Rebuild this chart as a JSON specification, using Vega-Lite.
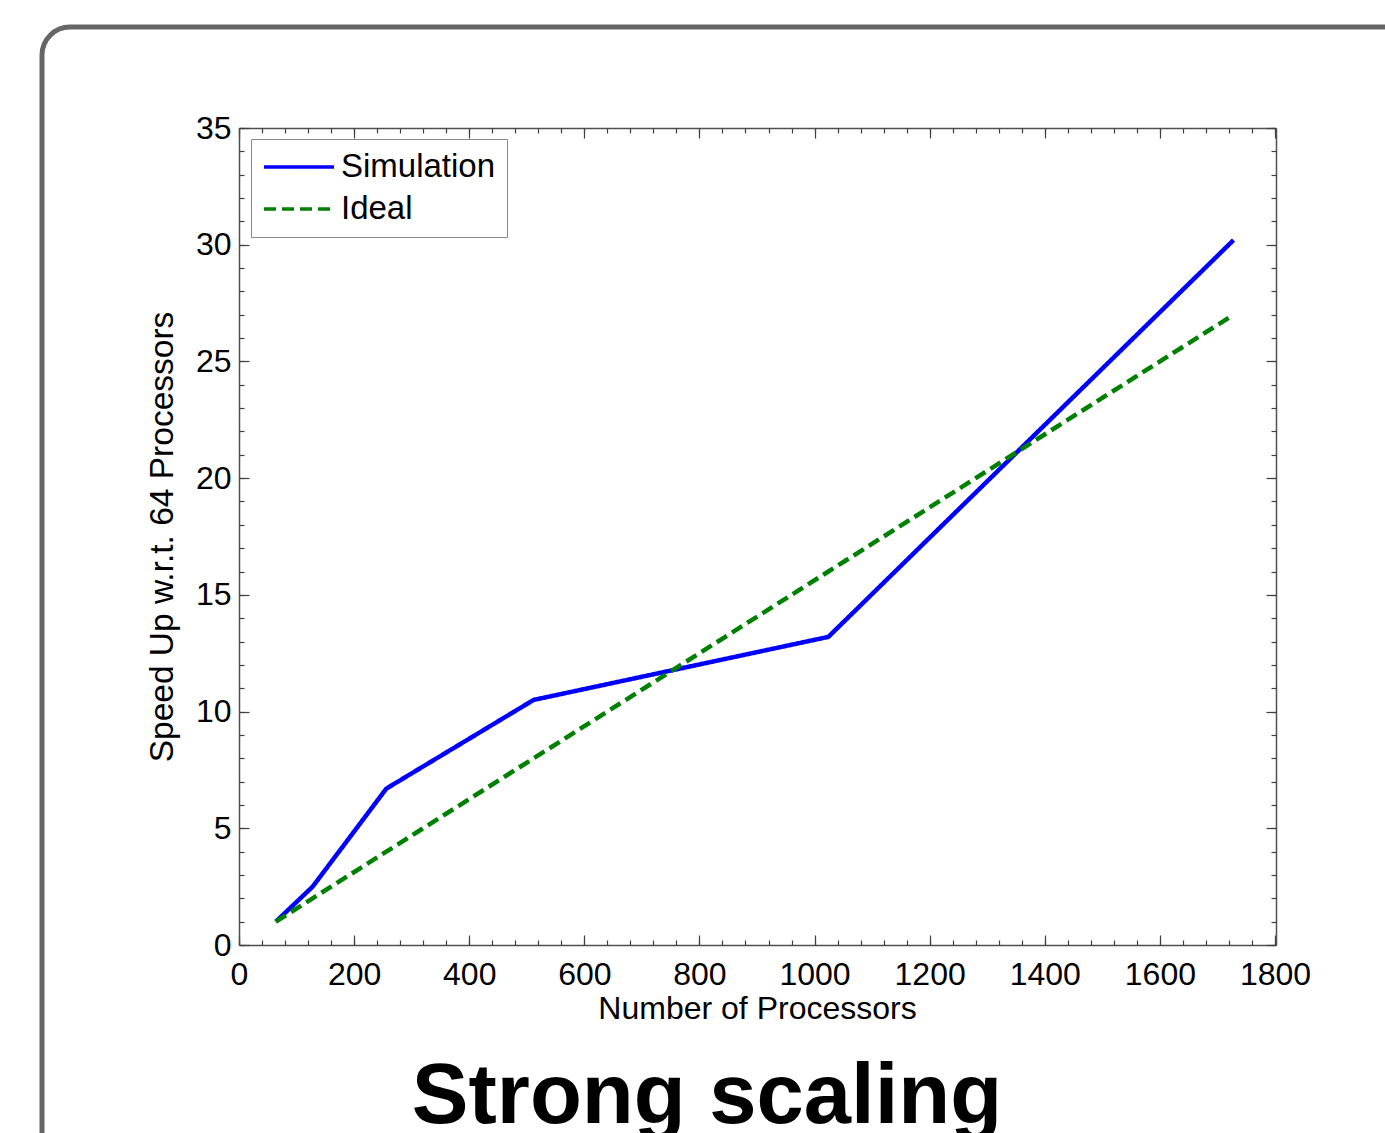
{
  "$schema": "https://vega.github.io/schema/vega-lite/v6.json",
  "width": 1400,
  "height": 1150,
  "autosize": {"type": "none"},
  "padding": {"left": 42, "top": 27, "right": 0, "bottom": 0},
  "background": "white",
  "config": {
    "font": "Liberation Sans",
    "view": {"stroke": "#666666", "strokeWidth": 5, "cornerRadius": 28, "fill": "white"},
    "axis": {"grid": false, "tickColor": "#404040", "domainColor": "#505050", "domainWidth": 1.5, "tickWidth": 1.2, "labelColor": "black", "titleColor": "black", "labelFont": "Liberation Sans", "titleFont": "Liberation Sans", "labelOverlap": false, "labelBound": false, "labelFlush": false, "titleFontWeight": "normal"}
  },
  "title": {
    "text": "Strong scaling",
    "orient": "bottom",
    "anchor": "middle",
    "frame": "group",
    "font": "Liberation Sans",
    "fontSize": 85,
    "fontWeight": "bold",
    "color": "black",
    "baseline": "alphabetic",
    "offset": -54,
    "dx": -35
  },
  "data": {
    "values": [
      {"procs": 64, "speedup": 1.0, "series": "Simulation"},
      {"procs": 128, "speedup": 2.5, "series": "Simulation"},
      {"procs": 256, "speedup": 6.7, "series": "Simulation"},
      {"procs": 512, "speedup": 10.5, "series": "Simulation"},
      {"procs": 1024, "speedup": 13.2, "series": "Simulation"},
      {"procs": 1728, "speedup": 30.2, "series": "Simulation"},
      {"procs": 64, "speedup": 1, "series": "Ideal"},
      {"procs": 128, "speedup": 2, "series": "Ideal"},
      {"procs": 256, "speedup": 4, "series": "Ideal"},
      {"procs": 512, "speedup": 8, "series": "Ideal"},
      {"procs": 1024, "speedup": 16, "series": "Ideal"},
      {"procs": 1728, "speedup": 27, "series": "Ideal"}
    ]
  },
  "resolve": {"axis": {"x": "independent", "y": "independent"}},
  "layer": [
    {
      "mark": {"type": "line", "strokeWidth": 4.5, "clip": false},
      "encoding": {
        "x": {"field": "procs", "type": "quantitative",
          "scale": {"domain": [0, 1800], "range": [197, 1233], "nice": false, "zero": false},
          "axis": {"orient": "bottom", "offset": -232, "values": [0, 200, 400, 600, 800, 1000, 1200, 1400, 1600, 1800], "format": "d", "tickSize": -10, "labelPadding": 24, "labelFontSize": 32, "title": "Number of Processors", "titleFontSize": 32, "titlePadding": 3}},
        "y": {"field": "speedup", "type": "quantitative",
          "scale": {"domain": [0, 35], "range": [918, 101], "nice": false, "zero": false},
          "axis": {"orient": "left", "offset": -197, "values": [0, 5, 10, 15, 20, 25, 30, 35], "format": "d", "tickSize": -10, "labelPadding": 18, "labelFontSize": 32, "title": "Speed Up w.r.t. 64 Processors", "titleFontSize": 33.5, "titlePadding": 16}},
        "color": {"field": "series", "type": "nominal",
          "scale": {"domain": ["Simulation", "Ideal"], "range": ["#0000ff", "#008000"]},
          "legend": {"title": null, "orient": "none", "legendX": 209, "legendY": 112, "strokeColor": "#888888", "fillColor": "white", "padding": 11, "labelFontSize": 33, "labelFont": "Liberation Sans", "labelColor": "black", "symbolType": "M-1,0H3.67", "symbolSize": 900, "symbolStrokeWidth": 3.5, "labelOffset": 45, "rowPadding": 8, "cornerRadius": 0}},
        "strokeDash": {"field": "series", "type": "nominal",
          "scale": {"domain": ["Simulation", "Ideal"], "range": [[1, 0], [12, 6]]},
          "legend": {"title": null, "orient": "none", "legendX": 209, "legendY": 112, "strokeColor": "#888888", "fillColor": "white", "padding": 11, "labelFontSize": 33, "labelFont": "Liberation Sans", "labelColor": "black", "symbolType": "M-1,0H3.67", "symbolSize": 900, "symbolStrokeWidth": 3.5, "labelOffset": 45, "rowPadding": 8, "cornerRadius": 0}}
      }
    },
    {
      "mark": {"type": "line", "opacity": 0},
      "encoding": {
        "x": {"field": "procs", "type": "quantitative",
          "scale": {"domain": [0, 1800], "range": [197, 1233], "nice": false, "zero": false},
          "axis": {"orient": "top", "offset": -101, "values": [0, 200, 400, 600, 800, 1000, 1200, 1400, 1600, 1800], "tickSize": -10, "labels": false, "title": null}},
        "y": {"field": "speedup", "type": "quantitative",
          "scale": {"domain": [0, 35], "range": [918, 101], "nice": false, "zero": false},
          "axis": {"orient": "right", "offset": -166, "values": [0, 5, 10, 15, 20, 25, 30, 35], "tickSize": -10, "labels": false, "title": null}},
        "detail": {"field": "series", "type": "nominal"}
      }
    },
    {
      "mark": {"type": "line", "opacity": 0},
      "encoding": {
        "x": {"field": "procs", "type": "quantitative",
          "scale": {"domain": [0, 1800], "range": [197, 1233], "nice": false, "zero": false},
          "axis": {"orient": "bottom", "offset": -232, "values": [0, 40, 80, 120, 160, 200, 240, 280, 320, 360, 400, 440, 480, 520, 560, 600, 640, 680, 720, 760, 800, 840, 880, 920, 960, 1000, 1040, 1080, 1120, 1160, 1200, 1240, 1280, 1320, 1360, 1400, 1440, 1480, 1520, 1560, 1600, 1640, 1680, 1720, 1760, 1800], "tickSize": -5, "labels": false, "domain": false, "title": null}},
        "y": {"field": "speedup", "type": "quantitative",
          "scale": {"domain": [0, 35], "range": [918, 101], "nice": false, "zero": false},
          "axis": {"orient": "left", "offset": -197, "values": [0, 1, 2, 3, 4, 5, 6, 7, 8, 9, 10, 11, 12, 13, 14, 15, 16, 17, 18, 19, 20, 21, 22, 23, 24, 25, 26, 27, 28, 29, 30, 31, 32, 33, 34, 35], "tickSize": -5, "labels": false, "domain": false, "title": null}},
        "detail": {"field": "series", "type": "nominal"}
      }
    },
    {
      "mark": {"type": "line", "opacity": 0},
      "encoding": {
        "x": {"field": "procs", "type": "quantitative",
          "scale": {"domain": [0, 1800], "range": [197, 1233], "nice": false, "zero": false},
          "axis": {"orient": "top", "offset": -101, "values": [0, 40, 80, 120, 160, 200, 240, 280, 320, 360, 400, 440, 480, 520, 560, 600, 640, 680, 720, 760, 800, 840, 880, 920, 960, 1000, 1040, 1080, 1120, 1160, 1200, 1240, 1280, 1320, 1360, 1400, 1440, 1480, 1520, 1560, 1600, 1640, 1680, 1720, 1760, 1800], "tickSize": -5, "labels": false, "domain": false, "title": null}},
        "y": {"field": "speedup", "type": "quantitative",
          "scale": {"domain": [0, 35], "range": [918, 101], "nice": false, "zero": false},
          "axis": {"orient": "right", "offset": -166, "values": [0, 1, 2, 3, 4, 5, 6, 7, 8, 9, 10, 11, 12, 13, 14, 15, 16, 17, 18, 19, 20, 21, 22, 23, 24, 25, 26, 27, 28, 29, 30, 31, 32, 33, 34, 35], "tickSize": -5, "labels": false, "domain": false, "title": null}},
        "detail": {"field": "series", "type": "nominal"}
      }
    }
  ]
}
